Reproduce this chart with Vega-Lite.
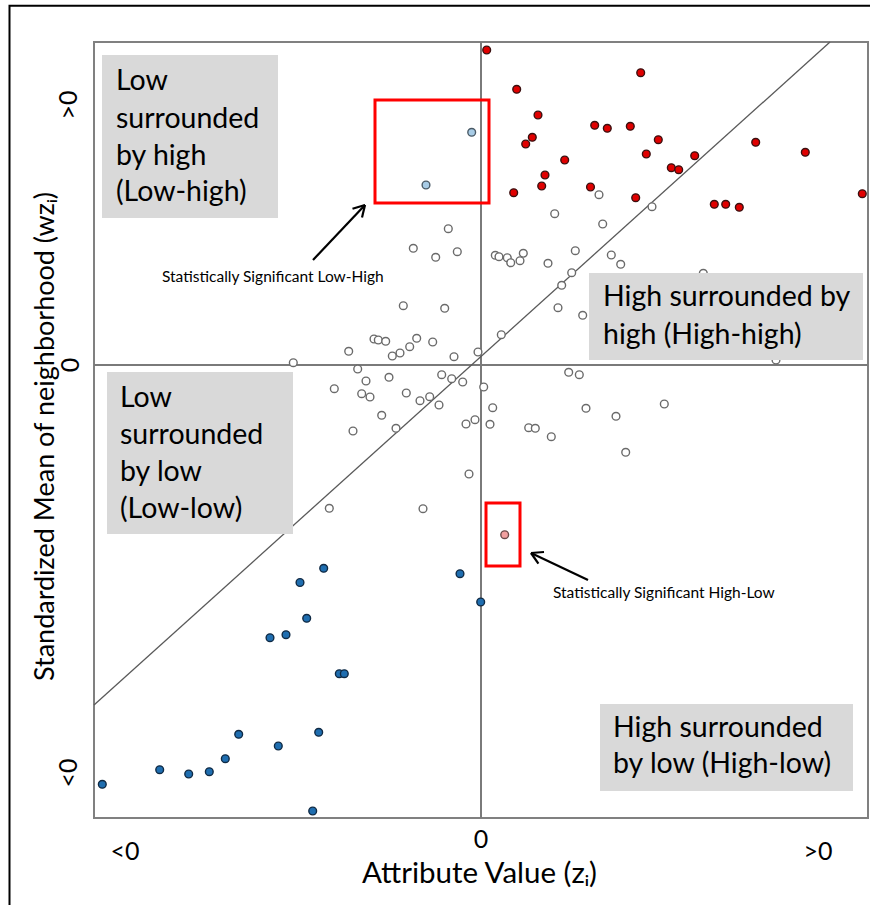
{
  "$schema": "https://vega.github.io/schema/vega-lite/v6.json",
  "autosize": {"type": "none"},
  "padding": {"left": 94, "top": 42, "right": 2, "bottom": 87},
  "width": 774,
  "height": 776,
  "background": "white",
  "config": {"font": "Lato", "view": {"stroke": "#808080", "strokeWidth": 2}},
  "encoding": {
    "x": {"field": "x", "type": "quantitative",
      "scale": {"domain": [-3.87, 3.87], "nice": false, "zero": false},
      "axis": {"values": [0], "labels": false,
        "grid": false, "domain": false, "ticks": false, "tickSize": 0,
        "title": "Attribute Value (zᵢ)", "titleFontSize": 29.5, "titleFontWeight": "normal",
        "titleColor": "#000", "titleFont": "Lato", "titleX": 385, "titleY": 64, "titleAlign": "center", "titleBaseline": "alphabetic"}},
    "y": {"field": "y", "type": "quantitative",
      "scale": {"domain": [-4.53, 3.23], "nice": false, "zero": false},
      "axis": {"values": [0], "labels": false,
        "grid": false, "domain": false, "ticks": false, "tickSize": 0,
        "title": "Standardized Mean of neighborhood (wzᵢ)", "titleFontSize": 27, "titleFontWeight": "normal",
        "titleColor": "#000", "titleFont": "Lato", "titleAngle": -90, "titleX": -41, "titleY": 394,
        "titleAlign": "center", "titleBaseline": "alphabetic"}}
  },
  "layer": [
    {
      "data": {"values": [{"x": -4.715, "y": 3.593, "x2": 4.6, "y2": -6}]},
      "mark": {"type": "rect", "fill": "transparent", "stroke": "#000", "strokeWidth": 2},
      "encoding": {"x2": {"field": "x2"}, "y2": {"field": "y2"}}
    },
    {
      "data": {"values": [{"x": 0, "y": -4.53, "x2": 0, "y2": 3.23}, {"x": -3.87, "y": 0, "x2": 3.87, "y2": 0}]},
      "mark": {"type": "rule", "stroke": "#7a7a7a", "strokeWidth": 2},
      "encoding": {"x2": {"field": "x2"}, "y2": {"field": "y2"}}
    },
    {
      "data": {"values": [{"x": -3.87, "y": -3.40, "x2": 3.49, "y2": 3.23}]},
      "mark": {"type": "rule", "stroke": "#5a5a5a", "strokeWidth": 1.3},
      "encoding": {"x2": {"field": "x2"}, "y2": {"field": "y2"}}
    },
    {
      "data": {"values": [
        {"x": 0.057, "y": 3.15, "c": "HH"}, {"x": 0.357, "y": 2.757, "c": "HH"}, {"x": 0.57, "y": 2.50, "c": "HH"},
        {"x": 0.513, "y": 2.277, "c": "HH"}, {"x": 0.447, "y": 2.21, "c": "HH"}, {"x": 0.837, "y": 2.05, "c": "HH"},
        {"x": 0.64, "y": 1.90, "c": "HH"}, {"x": 0.607, "y": 1.79, "c": "HH"}, {"x": 0.327, "y": 1.723, "c": "HH"},
        {"x": 1.095, "y": 1.78, "c": "HH"}, {"x": 1.597, "y": 2.923, "c": "HH"}, {"x": 1.137, "y": 2.397, "c": "HH"},
        {"x": 1.263, "y": 2.367, "c": "HH"}, {"x": 1.493, "y": 2.387, "c": "HH"}, {"x": 1.773, "y": 2.253, "c": "HH"},
        {"x": 1.653, "y": 2.11, "c": "HH"}, {"x": 2.137, "y": 2.093, "c": "HH"}, {"x": 1.903, "y": 1.973, "c": "HH"},
        {"x": 1.977, "y": 1.953, "c": "HH"}, {"x": 2.747, "y": 2.227, "c": "HH"}, {"x": 3.243, "y": 2.127, "c": "HH"},
        {"x": 1.547, "y": 1.673, "c": "HH"}, {"x": 2.333, "y": 1.607, "c": "HH"}, {"x": 2.447, "y": 1.607, "c": "HH"},
        {"x": 2.583, "y": 1.577, "c": "HH"}, {"x": 3.813, "y": 1.713, "c": "HH"},
        {"x": -0.093, "y": 2.327, "c": "LH"}, {"x": -0.55, "y": 1.80, "c": "LH"},
        {"x": 0.237, "y": -1.697, "c": "HL"},
        {"x": -3.787, "y": -4.193, "c": "LL"}, {"x": -3.213, "y": -4.047, "c": "LL"}, {"x": -2.923, "y": -4.09, "c": "LL"},
        {"x": -2.717, "y": -4.067, "c": "LL"}, {"x": -2.557, "y": -3.937, "c": "LL"}, {"x": -2.423, "y": -3.693, "c": "LL"},
        {"x": -2.027, "y": -3.81, "c": "LL"}, {"x": -2.11, "y": -2.727, "c": "LL"}, {"x": -1.95, "y": -2.697, "c": "LL"},
        {"x": -1.81, "y": -2.175, "c": "LL"}, {"x": -1.573, "y": -2.033, "c": "LL"}, {"x": -1.743, "y": -2.533, "c": "LL"},
        {"x": -1.417, "y": -3.087, "c": "LL"}, {"x": -1.367, "y": -3.087, "c": "LL"}, {"x": -1.623, "y": -3.673, "c": "LL"},
        {"x": -1.683, "y": -4.46, "c": "LL"}, {"x": -0.21, "y": -2.087, "c": "LL"}, {"x": -0.003, "y": -2.37, "c": "LL"},
        {"x": 0.737, "y": 1.513, "c": "NS"}, {"x": -0.327, "y": 1.363, "c": "NS"}, {"x": -0.677, "y": 1.167, "c": "NS"},
        {"x": -0.453, "y": 1.077, "c": "NS"}, {"x": -0.237, "y": 1.133, "c": "NS"}, {"x": 0.143, "y": 1.097, "c": "NS"},
        {"x": 0.18, "y": 1.083, "c": "NS"}, {"x": 0.263, "y": 1.073, "c": "NS"}, {"x": 0.297, "y": 1.023, "c": "NS"},
        {"x": 0.39, "y": 1.043, "c": "NS"}, {"x": 0.423, "y": 1.117, "c": "NS"}, {"x": 0.67, "y": 1.017, "c": "NS"},
        {"x": 0.943, "y": 1.143, "c": "NS"}, {"x": 0.907, "y": 0.923, "c": "NS"}, {"x": 0.807, "y": 0.797, "c": "NS"},
        {"x": 1.18, "y": 1.703, "c": "NS"}, {"x": 1.71, "y": 1.583, "c": "NS"}, {"x": 1.217, "y": 1.41, "c": "NS"},
        {"x": 1.303, "y": 1.10, "c": "NS"}, {"x": 1.397, "y": 1.007, "c": "NS"}, {"x": 2.223, "y": 0.917, "c": "NS"},
        {"x": -0.777, "y": 0.593, "c": "NS"}, {"x": -0.363, "y": 0.567, "c": "NS"}, {"x": 0.77, "y": 0.573, "c": "NS"},
        {"x": 1.017, "y": 0.497, "c": "NS"}, {"x": 0.203, "y": 0.303, "c": "NS"}, {"x": -1.07, "y": 0.26, "c": "NS"},
        {"x": -1.027, "y": 0.25, "c": "NS"}, {"x": -0.953, "y": 0.237, "c": "NS"}, {"x": -0.643, "y": 0.267, "c": "NS"},
        {"x": -0.483, "y": 0.23, "c": "NS"}, {"x": -0.713, "y": 0.183, "c": "NS"}, {"x": -0.81, "y": 0.12, "c": "NS"},
        {"x": -0.887, "y": 0.09, "c": "NS"}, {"x": -1.323, "y": 0.137, "c": "NS"}, {"x": -0.27, "y": 0.083, "c": "NS"},
        {"x": -0.03, "y": 0.13, "c": "NS"}, {"x": -1.877, "y": 0.023, "c": "NS"}, {"x": -1.233, "y": -0.04, "c": "NS"},
        {"x": -0.393, "y": -0.097, "c": "NS"}, {"x": -0.293, "y": -0.137, "c": "NS"}, {"x": -0.183, "y": -0.17, "c": "NS"},
        {"x": -1.15, "y": -0.16, "c": "NS"}, {"x": -0.92, "y": -0.123, "c": "NS"}, {"x": -1.467, "y": -0.237, "c": "NS"},
        {"x": 0.027, "y": -0.22, "c": "NS"}, {"x": 0.877, "y": -0.073, "c": "NS"}, {"x": 0.983, "y": -0.097, "c": "NS"},
        {"x": -1.193, "y": -0.287, "c": "NS"}, {"x": -1.11, "y": -0.32, "c": "NS"}, {"x": -0.747, "y": -0.28, "c": "NS"},
        {"x": -0.61, "y": -0.357, "c": "NS"}, {"x": -0.513, "y": -0.317, "c": "NS"}, {"x": -0.42, "y": -0.40, "c": "NS"},
        {"x": 0.117, "y": -0.427, "c": "NS"}, {"x": 1.05, "y": -0.433, "c": "NS"}, {"x": -0.993, "y": -0.503, "c": "NS"},
        {"x": -0.85, "y": -0.633, "c": "NS"}, {"x": -1.28, "y": -0.66, "c": "NS"}, {"x": -0.15, "y": -0.59, "c": "NS"},
        {"x": -0.06, "y": -0.547, "c": "NS"}, {"x": 0.09, "y": -0.593, "c": "NS"}, {"x": 0.477, "y": -0.627, "c": "NS"},
        {"x": 0.543, "y": -0.633, "c": "NS"}, {"x": 0.703, "y": -0.717, "c": "NS"}, {"x": -0.12, "y": -1.09, "c": "NS"},
        {"x": -1.517, "y": -1.433, "c": "NS"}, {"x": -0.58, "y": -1.437, "c": "NS"}, {"x": 1.35, "y": -0.513, "c": "NS"},
        {"x": 1.833, "y": -0.39, "c": "NS"}, {"x": 1.447, "y": -0.873, "c": "NS"}, {"x": 2.95, "y": 0.05, "c": "NS"}
      ]},
      "mark": {"type": "circle", "size": 60, "strokeWidth": 1.4, "opacity": 1},
      "encoding": {
        "fill": {"field": "c", "type": "nominal", "legend": null,
          "scale": {"domain": ["NS", "HH", "LL", "LH", "HL"], "range": ["#ffffff", "#e00000", "#1f6eb0", "#a8cce6", "#f2a0a0"]}},
        "stroke": {"field": "c", "type": "nominal", "legend": null,
          "scale": {"domain": ["NS", "HH", "LL", "LH", "HL"], "range": ["#6a6a6a", "#3a1010", "#102a44", "#4a5a66", "#6a4a4a"]}}
      }
    },
    {
      "data": {"values": [
        {"x": -3.79, "y": 3.10, "x2": -2.03, "y2": 1.47},
        {"x": 1.08, "y": 0.92, "x2": 3.82, "y2": 0.05},
        {"x": -3.74, "y": -0.07, "x2": -1.88, "y2": -1.69},
        {"x": 1.19, "y": -3.39, "x2": 3.72, "y2": -4.26}
      ]},
      "mark": {"type": "rect", "fill": "#d9d9d9"},
      "encoding": {"x2": {"field": "x2"}, "y2": {"field": "y2"}}
    },
    {
      "data": {"values": [
        {"x": -3.65, "y": 2.75, "t": "Low"},
        {"x": -3.65, "y": 2.37, "t": "surrounded"},
        {"x": -3.65, "y": 2.00, "t": "by high"},
        {"x": -3.65, "y": 1.64, "t": "(Low-high)"},
        {"x": -3.61, "y": -0.42, "t": "Low"},
        {"x": -3.61, "y": -0.79, "t": "surrounded"},
        {"x": -3.61, "y": -1.16, "t": "by low"},
        {"x": -3.61, "y": -1.53, "t": "(Low-low)"},
        {"x": 1.22, "y": 0.59, "t": "High surrounded by"},
        {"x": 1.22, "y": 0.21, "t": "high (High-high)"},
        {"x": 1.32, "y": -3.72, "t": "High surrounded"},
        {"x": 1.32, "y": -4.08, "t": "by low (High-low)"}
      ]},
      "mark": {"type": "text", "align": "left", "baseline": "alphabetic", "fontSize": 28.5, "font": "Lato", "color": "#000"},
      "encoding": {"text": {"field": "t"}}
    },
    {
      "data": {"values": [
        {"x": -3.56, "y": -4.95, "t": "<0"},
        {"x": 0, "y": -4.83, "t": "0"},
        {"x": 3.37, "y": -4.95, "t": ">0"}
      ]},
      "mark": {"type": "text", "align": "center", "baseline": "alphabetic", "fontSize": 25, "font": "Lato", "color": "#000"},
      "encoding": {"text": {"field": "t"}}
    },
    {
      "data": {"values": [
        {"x": -4.04, "y": 2.6, "t": ">0"},
        {"x": -4.02, "y": 0, "t": "0"},
        {"x": -4.04, "y": -4.08, "t": "<0"}
      ]},
      "mark": {"type": "text", "align": "center", "baseline": "alphabetic", "angle": 270, "fontSize": 25, "font": "Lato", "color": "#000"},
      "encoding": {"text": {"field": "t"}}
    },
    {
      "data": {"values": [
        {"x": -1.06, "y": 2.65, "x2": 0.08, "y2": 1.62},
        {"x": 0.05, "y": -1.38, "x2": 0.39, "y2": -2.01}
      ]},
      "mark": {"type": "rect", "fill": "transparent", "stroke": "#ff0000", "strokeWidth": 3},
      "encoding": {"x2": {"field": "x2"}, "y2": {"field": "y2"}}
    },
    {
      "data": {"values": [
        {"x": -1.68, "y": 1.05, "x2": -1.16, "y2": 1.60},
        {"x": -1.16, "y": 1.60, "x2": -1.285, "y2": 1.563},
        {"x": -1.16, "y": 1.60, "x2": -1.19, "y2": 1.474},
        {"x": 1.07, "y": -2.15, "x2": 0.50, "y2": -1.88},
        {"x": 0.50, "y": -1.88, "x2": 0.574, "y2": -1.987},
        {"x": 0.50, "y": -1.88, "x2": 0.63, "y2": -1.87}
      ]},
      "mark": {"type": "rule", "stroke": "#000", "strokeWidth": 2.2},
      "encoding": {"x2": {"field": "x2"}, "y2": {"field": "y2"}}
    },
    {
      "data": {"values": [
        {"x": -3.19, "y": 0.83, "t": "Statistically Significant Low-High"},
        {"x": 0.72, "y": -2.33, "t": "Statistically Significant High-Low"}
      ]},
      "mark": {"type": "text", "align": "left", "baseline": "alphabetic", "fontSize": 15.5, "font": "Lato", "color": "#000"},
      "encoding": {"text": {"field": "t"}}
    }
  ]
}
